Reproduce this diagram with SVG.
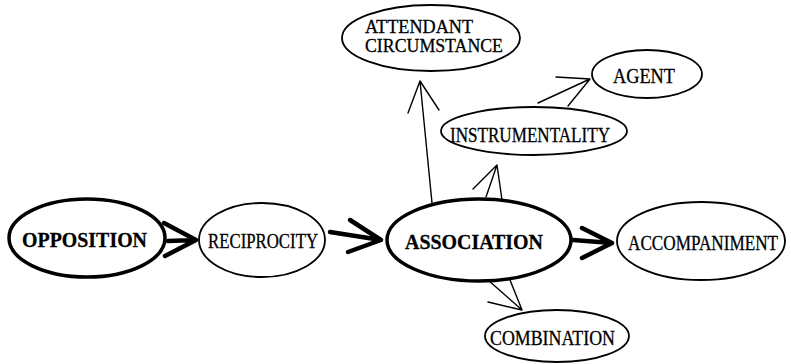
<svg xmlns="http://www.w3.org/2000/svg" width="791" height="364" viewBox="0 0 791 364">
<style>
.bg{fill:#fff}
.thick{fill:#fff;stroke:#000;stroke-width:3.5}
.thin{fill:#fff;stroke:#000;stroke-width:1.8}
.ca{fill:none;stroke:#000;stroke-width:4.5;stroke-linecap:round;stroke-linejoin:round}
.cb{fill:none;stroke:#000;stroke-width:1.4;stroke-linecap:round;stroke-linejoin:round}
text{font-family:"Liberation Serif","Times New Roman",serif;font-size:20.5px;fill:#000;stroke:#000;stroke-width:0.3}
.b{font-weight:bold;font-size:21.5px}
.s{font-size:18.5px}
</style>
<rect class="bg" width="791" height="364"/>
<g id="connectors">
<path class="ca" d="M168,241 L196,240 M164,223 L196,240 L165,256"/>
<path class="ca" d="M330,232 L381,240 M350,220 L381,240 L348,252"/>
<path class="ca" d="M573,240 L612,243 M582,228 L612,243 L582,258"/>
<path class="cb" d="M432,203 L420,81 M408,113 L420,81 L439,110"/>
<path class="cb" d="M502,200 L497,165 M473,189 L497,165 L486,197"/>
<path class="cb" d="M568,106 L590,79 M556,77 L590,79 L538,103"/>
<path class="cb" d="M488,280 L522,310 M510,280 L522,310 L488,302"/>
</g>
<g id="opposition">
<ellipse class="thick" cx="87" cy="238" rx="78" ry="39"/>
<text class="b" x="22" y="247" textLength="125" lengthAdjust="spacingAndGlyphs">OPPOSITION</text>
</g>
<g id="reciprocity">
<ellipse class="thin" cx="262" cy="240" rx="63" ry="37"/>
<text x="208" y="248" textLength="110" lengthAdjust="spacingAndGlyphs">RECIPROCITY</text>
</g>
<g id="association">
<ellipse class="thick" cx="479" cy="240" rx="92" ry="41"/>
<text class="b" x="405" y="249" textLength="138" lengthAdjust="spacingAndGlyphs">ASSOCIATION</text>
</g>
<g id="accompaniment">
<ellipse class="thin" cx="701" cy="241" rx="84" ry="39"/>
<text x="628" y="250" textLength="150" lengthAdjust="spacingAndGlyphs">ACCOMPANIMENT</text>
</g>
<g id="attendant-circumstance">
<ellipse class="thin" cx="431" cy="38" rx="89" ry="33"/>
<text class="s" x="365" y="33" textLength="108" lengthAdjust="spacingAndGlyphs">ATTENDANT</text>
<text class="s" x="365" y="52" textLength="138" lengthAdjust="spacingAndGlyphs">CIRCUMSTANCE</text>
</g>
<g id="instrumentality">
<ellipse class="thin" cx="534" cy="131" rx="93" ry="24"/>
<text x="450" y="142" textLength="160" lengthAdjust="spacingAndGlyphs">INSTRUMENTALITY</text>
</g>
<g id="agent">
<ellipse class="thin" cx="647" cy="74" rx="55" ry="24"/>
<text x="613" y="83" textLength="62" lengthAdjust="spacingAndGlyphs">AGENT</text>
</g>
<g id="combination">
<ellipse class="thin" cx="557" cy="336" rx="72" ry="26"/>
<text x="490" y="345" textLength="125" lengthAdjust="spacingAndGlyphs">COMBINATION</text>
</g>
</svg>
